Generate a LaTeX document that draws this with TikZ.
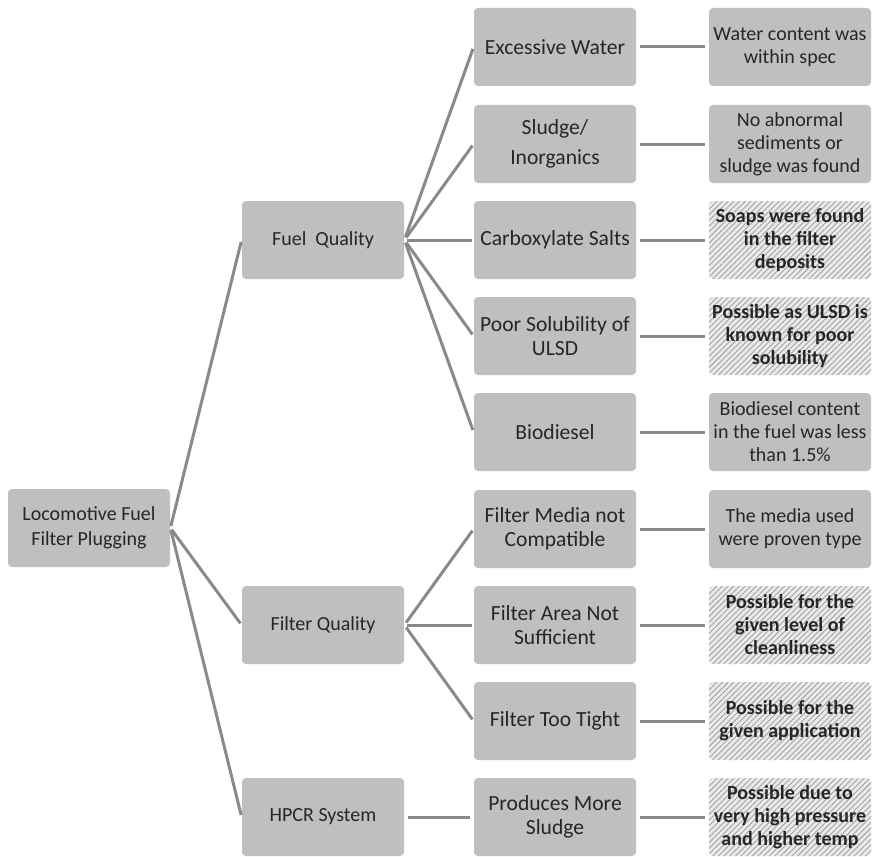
\documentclass[tikz,border=0pt]{standalone}
\usepackage{fontspec}
\setmainfont{Carlito}
\usetikzlibrary{patterns.meta}
\definecolor{boxgray}{HTML}{BFBFBF}
\definecolor{linkgray}{HTML}{8A8A8A}
\definecolor{hatchbg}{HTML}{EAEAEA}
\definecolor{hatchline}{HTML}{A2A2A2}
\definecolor{txt}{HTML}{262626}
\begin{document}
\begin{tikzpicture}[x=0.5pt,y=-0.5pt,
  box/.style={rectangle, rounded corners=2pt, fill=boxgray, minimum width=81pt,
    minimum height=39pt, inner sep=0pt, align=center, text=txt},
  headbox/.style={box, font=\fontsize{10}{12.5}\selectfont},
  causebox/.style={box, font=\fontsize{10.8}{11.8}\selectfont},
  findbox/.style={box, font=\fontsize{10}{11.5}\selectfont},
  likelybox/.style={findbox, fill=hatchbg, font=\bfseries\fontsize{10}{11.5}\selectfont,
    postaction={pattern={Lines[angle=45,distance=2pt,line width=0.45pt]}, pattern color=hatchline}},
  conn/.style={draw=linkgray, line width=1.5pt}]
\useasboundingbox (0,0) rectangle (872,856);

% root and first level
\node[headbox] (root) at (89,528) {Locomotive Fuel\\Filter Plugging};
\node[headbox] (fuel) at (323,240) {Fuel\ \ Quality};
\node[headbox] (filt) at (323,625) {Filter Quality};
\node[headbox] (hpcr) at (323,817) {HPCR System};

% possible causes
\node[causebox] (c1) at (555,47)  {Excessive Water};
\node[causebox] (c2) at (555,144) {Sludge/\\[3pt]Inorganics};
\node[causebox] (c3) at (555,240) {Carboxylate Salts};
\node[causebox] (c4) at (555,336) {Poor Solubility of\\ULSD};
\node[causebox] (c5) at (555,432) {Biodiesel};
\node[causebox] (c6) at (555,529) {Filter Media not\\Compatible};
\node[causebox] (c7) at (555,625) {Filter Area Not\\Sufficient};
\node[causebox] (c8) at (555,721) {Filter Too Tight};
\node[causebox] (c9) at (555,817) {Produces More\\Sludge};

% findings
\node[findbox]   (f1) at (790,47)  {Water content was\\within spec};
\node[findbox]   (f2) at (790,144) {No abnormal\\sediments or\\sludge was found};
\node[likelybox] (f3) at (790,240) {Soaps were found\\in the filter\\deposits};
\node[likelybox] (f4) at (790,336) {Possible as ULSD is\\known for poor\\solubility};
\node[findbox]   (f5) at (790,432) {Biodiesel content\\in the fuel was less\\than 1.5\%};
\node[findbox]   (f6) at (790,529) {The media used\\were proven type};
\node[likelybox] (f7) at (790,625) {Possible for the\\given level of\\cleanliness};
\node[likelybox] (f8) at (790,721) {Possible for the\\given application};
\node[likelybox] (f9) at (790,817) {Possible due to\\very high pressure\\and higher temp};

% tree connectors
\foreach \k in {fuel,filt,hpcr}
  \draw[conn, shorten <=1pt, shorten >=1pt] (root.east) -- (\k.west);
\foreach \k in {c1,c2,c3,c4,c5}
  \draw[conn, shorten <=1.5pt, shorten >=1pt] (fuel.east) -- (\k.west);
\foreach \k in {c6,c7,c8}
  \draw[conn, shorten <=1.5pt, shorten >=1pt] (filt.east) -- (\k.west);
\draw[conn, shorten <=2pt, shorten >=2pt] (hpcr) -- (c9);
\foreach \i in {1,...,9}
  \draw[conn, shorten <=2pt, shorten >=2pt] (c\i) -- (f\i);
\end{tikzpicture}
\end{document}
